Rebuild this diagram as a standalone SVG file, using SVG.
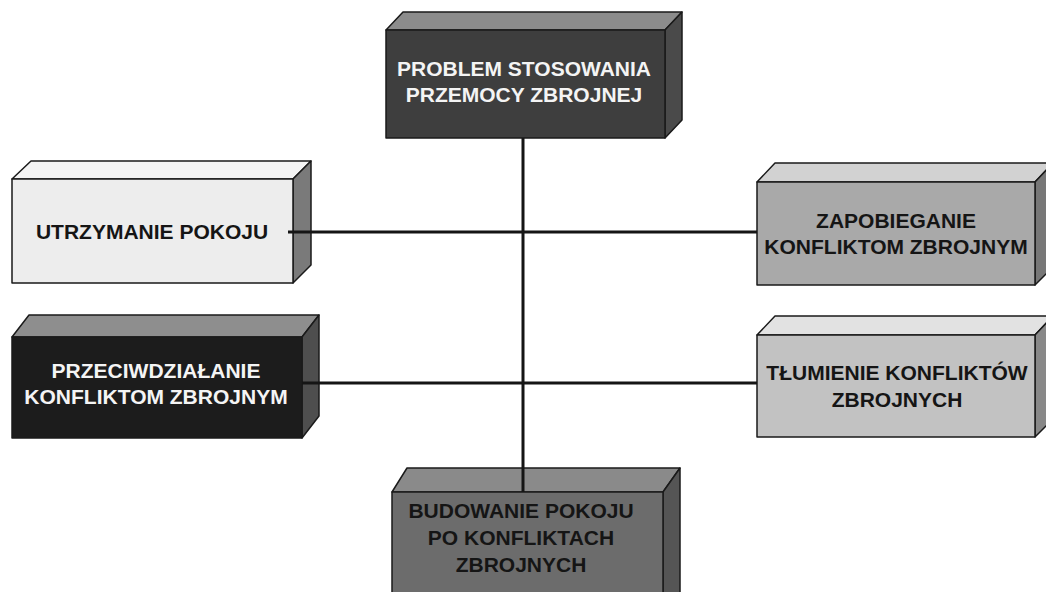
<svg xmlns="http://www.w3.org/2000/svg" width="1046" height="592" viewBox="0 0 1046 592">
<style>
.edge{stroke:#1a1a1a;stroke-width:1.5;stroke-linejoin:round}
.t{font-family:"Liberation Sans",Arial,sans-serif;font-weight:bold;font-size:21px;text-anchor:middle}
.w{fill:#f4f4f4}
.d{fill:#151515}
.conn{stroke:#151515;stroke-width:3;fill:none}
</style>
<rect width="1046" height="592" fill="#ffffff"/>
<g id="node-problem">
<polygon class="edge" points="386,30 403,12 682,12 665,30" fill="#8c8c8c"/>
<polygon class="edge" points="665,30 682,12 682,120 665,138" fill="#4a4a4a"/>
<rect class="edge" x="386" y="30" width="279" height="108" fill="#3e3e3e"/>
<text class="t w" x="524" y="76">PROBLEM STOSOWANIA</text>
<text class="t w" x="524" y="102">PRZEMOCY ZBROJNEJ</text>
</g>
<g id="node-utrzymanie">
<polygon class="edge" points="12,179 31,161 311,161 293,179" fill="#f4f4f4"/>
<polygon class="edge" points="293,179 311,161 311,265 293,283" fill="#7a7a7a"/>
<rect class="edge" x="12" y="179" width="281" height="104" fill="#ededed"/>
<text class="t d" x="152" y="239">UTRZYMANIE POKOJU</text>
</g>
<g id="node-przeciwdzialanie">
<polygon class="edge" points="12,337 29,315 319,315 302,337" fill="#8e8e8e"/>
<polygon class="edge" points="302,337 319,315 319,416 302,438" fill="#4e4e4e"/>
<rect class="edge" x="12" y="337" width="290" height="101" fill="#1c1c1c"/>
<text class="t w" x="156" y="378">PRZECIWDZIAŁANIE</text>
<text class="t w" x="156" y="404">KONFLIKTOM ZBROJNYM</text>
</g>
<g id="node-zapobieganie">
<polygon class="edge" points="757,182 775,163 1053,163 1035,182" fill="#d2d2d2"/>
<polygon class="edge" points="1035,182 1053,163 1053,267 1035,285" fill="#777777"/>
<rect class="edge" x="757" y="182" width="278" height="103" fill="#a9a9a9"/>
<text class="t d" x="896" y="228">ZAPOBIEGANIE</text>
<text class="t d" x="896" y="254">KONFLIKTOM ZBROJNYM</text>
</g>
<g id="node-tlumienie">
<polygon class="edge" points="757,335 775,316 1053,316 1035,335" fill="#e2e2e2"/>
<polygon class="edge" points="1035,335 1053,316 1053,419 1035,437" fill="#888888"/>
<rect class="edge" x="757" y="335" width="278" height="102" fill="#c2c2c2"/>
<text class="t d" x="897" y="380">TŁUMIENIE KONFLIKTÓW</text>
<text class="t d" x="897" y="407">ZBROJNYCH</text>
</g>
<g id="node-budowanie">
<polygon class="edge" points="392,492 407,468 680,468 663,492" fill="#8a8a8a"/>
<polygon class="edge" points="663,492 680,468 680,600 663,600" fill="#555555"/>
<rect class="edge" x="392" y="492" width="271" height="110" fill="#6c6c6c"/>
<text class="t d" x="521" y="518">BUDOWANIE POKOJU</text>
<text class="t d" x="521" y="545">PO KONFLIKTACH</text>
<text class="t d" x="521" y="572">ZBROJNYCH</text>
</g>
<g id="connectors">
<line class="conn" x1="523" y1="138" x2="523" y2="492"/>
<line class="conn" x1="288" y1="232" x2="757" y2="232"/>
<line class="conn" x1="302" y1="383" x2="757" y2="383"/>
</g>
</svg>
